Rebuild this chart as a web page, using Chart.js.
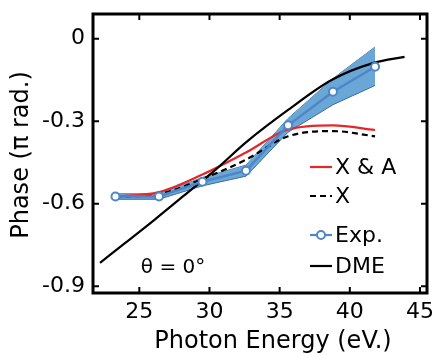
<!DOCTYPE html>
<html>
<head>
<meta charset="utf-8">
<script src="https://cdn.jsdelivr.net/npm/chart.js@4.4.1/dist/chart.umd.min.js"></script>
<style>
html, body { margin: 0; padding: 0; background: #fff; }
#wrap { width: 435px; height: 356px; }
</style>
</head>
<body>
<div id="wrap"><canvas id="grafico" width="435" height="356"></canvas></div>
<script>
// datos
const energiaExp = [23.3, 26.4, 29.5, 32.6, 35.6, 38.8, 41.8];
const faseExp = [-0.574, -0.574, -0.52, -0.48, -0.315, -0.193, -0.102];
const faseExpSup = [-0.564, -0.564, -0.505, -0.46, -0.29, -0.145, -0.03];
const faseExpInf = [-0.584, -0.584, -0.535, -0.50, -0.34, -0.24, -0.17];
const faseXA = [-0.575, -0.558, -0.494, -0.414, -0.33, -0.315, -0.332];
const faseX = [-0.575, -0.565, -0.51, -0.44, -0.355, -0.336, -0.355];
const energiaDME = [22.2, 24.0, 26.1, 28.2, 30.4, 32.6, 35.6, 38.7, 41.7, 43.9];
const faseDME = [-0.815, -0.743, -0.658, -0.57, -0.478, -0.377, -0.259, -0.15, -0.088, -0.066];
const ticksX = [25, 30, 35, 40, 45];
const ticksY = [-0.9, -0.6, -0.3, 0];
const etiquetas = ['X & A', 'X', 'Exp.', 'DME'];

const puntos = (xs, ys) => xs.map((x, i) => ({ x: x, y: ys[i] }));
const fuente = 'DejaVu Sans';

// ticks hacia adentro, marco completo, leyenda y textos
const marcoPlugin = {
    id: 'marco',
    afterDatasetsDraw(chart) {
        const ctx = chart.ctx;
        const a = chart.chartArea;
        const sx = chart.scales.x;
        const sy = chart.scales.y;
        ctx.save();
        ctx.strokeStyle = '#000';
        ctx.lineWidth = 2;
        ticksX.forEach(v => {
            const px = sx.getPixelForValue(v);
            ctx.beginPath();
            ctx.moveTo(px, a.bottom); ctx.lineTo(px, a.bottom - 6);
            ctx.moveTo(px, a.top); ctx.lineTo(px, a.top + 6);
            ctx.stroke();
        });
        ticksY.forEach(v => {
            const py = sy.getPixelForValue(v);
            ctx.beginPath();
            ctx.moveTo(a.left, py); ctx.lineTo(a.left + 6, py);
            ctx.moveTo(a.right, py); ctx.lineTo(a.right - 6, py);
            ctx.stroke();
        });
        ctx.lineWidth = 3;
        ctx.strokeRect(a.left, a.top, a.right - a.left, a.bottom - a.top);

        // leyenda
        const filas = [
            { ds: chart.data.datasets[3], y: 167 },
            { ds: chart.data.datasets[4], y: 196 },
            { ds: chart.data.datasets[2], y: 235 },
            { ds: chart.data.datasets[5], y: 266 }
        ];
        ctx.font = '22px "' + fuente + '"';
        ctx.textBaseline = 'middle';
        ctx.textAlign = 'left';
        filas.forEach((f, i) => {
            ctx.strokeStyle = f.ds.borderColor;
            ctx.lineWidth = 2.2;
            ctx.setLineDash(f.ds.borderDash || []);
            ctx.beginPath();
            ctx.moveTo(310, f.y); ctx.lineTo(332, f.y);
            ctx.stroke();
            ctx.setLineDash([]);
            if (f.ds.pointRadius > 0) {
                ctx.beginPath();
                ctx.arc(321, f.y, 4, 0, Math.PI * 2);
                ctx.fillStyle = '#fff';
                ctx.fill();
                ctx.lineWidth = 2;
                ctx.stroke();
            }
            ctx.fillStyle = '#000';
            ctx.fillText(etiquetas[i], 335, f.y + 1);
        });

        ctx.font = '20px "' + fuente + '"';
        ctx.textAlign = 'center';
        ctx.fillText('θ = 0°', 173, 268);

        // títulos de ejes
        ctx.font = '24px "' + fuente + '"';
        ctx.fillText('Photon Energy (eV.)', 273, 342);
        ctx.translate(22, 155);
        ctx.rotate(-Math.PI / 2);
        ctx.fillText('Phase (π rad.)', 0, 0);
        ctx.restore();
    }
};

const ctxFase = document.getElementById('grafico').getContext('2d');
new Chart(ctxFase, {
    type: 'line',
    data: {
        datasets: [
            {
                label: 'sup',
                data: puntos(energiaExp, faseExpSup),
                borderColor: '#3d6e97',
                borderWidth: 1,
                pointRadius: 0,
                fill: false,
                order: 10
            },
            {
                label: 'inf',
                data: puntos(energiaExp, faseExpInf),
                borderColor: '#3d6e97',
                borderWidth: 1,
                backgroundColor: '#6aa7d7',
                pointRadius: 0,
                fill: '-1',
                order: 9
            },
            {
                label: etiquetas[2],
                data: puntos(energiaExp, faseExp),
                borderColor: '#4f86c8',
                borderWidth: 2.5,
                pointRadius: 4,
                pointBorderWidth: 2,
                pointBackgroundColor: '#fff',
                pointBorderColor: '#4f86c8',
                order: 1
            },
            {
                label: etiquetas[0],
                data: puntos(energiaExp, faseXA),
                borderColor: '#e8262a',
                borderWidth: 2.2,
                pointRadius: 0,
                cubicInterpolationMode: 'monotone',
                order: 3
            },
            {
                label: etiquetas[1],
                data: puntos(energiaExp, faseX),
                borderColor: '#000',
                borderWidth: 2.2,
                borderDash: [6, 4],
                pointRadius: 0,
                cubicInterpolationMode: 'monotone',
                order: 4
            },
            {
                label: etiquetas[3],
                data: puntos(energiaDME, faseDME),
                borderColor: '#000',
                borderWidth: 2.2,
                pointRadius: 0,
                cubicInterpolationMode: 'monotone',
                order: 2
            }
        ]
    },
    options: {
        responsive: false,
        animation: false,
        layout: { padding: { top: 14, right: 8, left: 0, bottom: 0 } },
        plugins: { legend: { display: false }, tooltip: { enabled: false } },
        scales: {
            x: {
                type: 'linear',
                min: 21.7,
                max: 45.5,
                grid: { display: false, drawTicks: false },
                border: { display: false },
                afterFit: s => { s.height = 63; s.paddingLeft = 0; s.paddingRight = 0; },
                afterBuildTicks: s => { s.ticks = ticksX.map(v => ({ value: v })); },
                ticks: {
                    padding: 6,
                    color: '#000',
                    font: { family: fuente, size: 22 }
                }
            },
            y: {
                type: 'linear',
                min: -0.925,
                max: 0.09,
                grid: { display: false, drawTicks: false },
                border: { display: false },
                afterFit: s => { s.width = 93; s.paddingTop = 0; s.paddingBottom = 0; },
                afterBuildTicks: s => { s.ticks = ticksY.map(v => ({ value: v })); },
                ticks: {
                    padding: 8,
                    color: '#000',
                    font: { family: fuente, size: 22 },
                    callback: v => (v === 0 ? '0' : v.toFixed(1))
                }
            }
        }
    },
    plugins: [marcoPlugin]
});
</script>
</body>
</html>
